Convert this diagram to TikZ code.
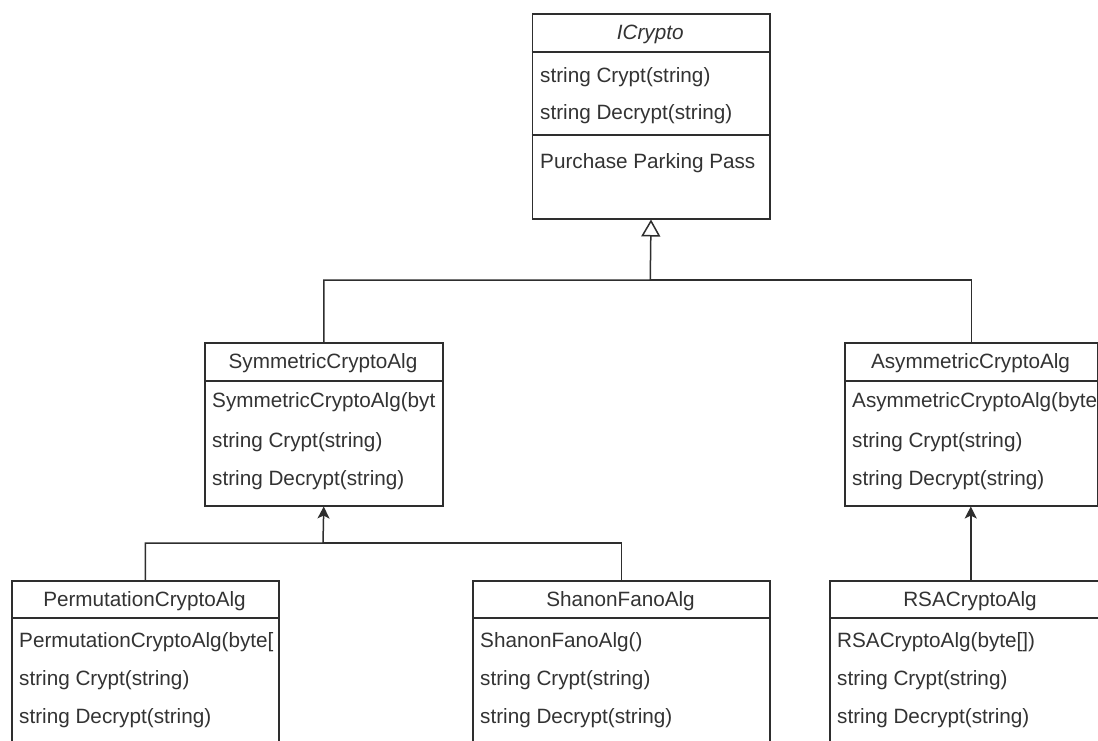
\documentclass[tikz,border=0pt]{standalone}
\usepackage{fontspec}
\setmainfont{Liberation Sans}
\usetikzlibrary{arrows.meta}
\definecolor{linegray}{HTML}{2E2E2E}
\definecolor{textgray}{HTML}{333333}

\begin{document}
\begin{tikzpicture}[
    x=1pt, y=-1pt,
    cls/.style={rectangle, draw=linegray, fill=white, line width=1.5pt,
                anchor=north west, inner sep=0pt},
    title/.style={font=\fontsize{20.7}{24}\selectfont, text=textgray,
                  text height=15pt, text depth=4.5pt, inner sep=0pt},
    member/.style={title, anchor=west},
    sep/.style={draw=linegray, line width=1.5pt},
    inherit/.style={-{Triangle[open, length=17pt, width=19pt]}, draw=linegray, line width=1.5pt},
    arr/.style={-{Stealth[length=12pt, width=12pt, inset=3pt]}, draw=linegray, line width=1.5pt}
  ]
  \fill[white] (0,0) rectangle (1098,740);
  \useasboundingbox (0,0) rectangle (1098,740);
  \clip (0,0) rectangle (1098,740);

  \node[cls, minimum width=237.5pt, minimum height=205pt] (icrypto) at (531.5,13) {};
  \node[cls, minimum width=238pt, minimum height=163pt] (sym)    at (204,342) {};
  \node[cls, minimum width=253pt, minimum height=163pt] (asym)   at (844,342) {};
  \node[cls, minimum width=267pt, minimum height=200pt] (perm)   at (11,580) {};
  \node[cls, minimum width=297pt, minimum height=200pt] (shanon) at (472,580) {};
  \node[cls, minimum width=282pt, minimum height=200pt] (rsa)    at (829,580) {};

  \draw[sep] (531.5,52) -- (769,52);
  \draw[sep] (531.5,135) -- (769,135);
  \draw[sep] (204,381) -- (442,381);
  \draw[sep] (844,381) -- (1097,381);
  \draw[sep] (11,618) -- (278,618);
  \draw[sep] (472,618) -- (769,618);
  \draw[sep] (829,618) -- (1111,618);

  \node[title] (icrypto-t) at (650.25,34) {\itshape ICrypto};
  \node[title] (sym-t)     at (323,363)   {SymmetricCryptoAlg};
  \node[title] (asym-t)    at (970.5,363) {AsymmetricCryptoAlg};
  \node[title] (perm-t)    at (144.5,601) {PermutationCryptoAlg};
  \node[title] (shanon-t)  at (620.5,601) {ShanonFanoAlg};
  \node[title] (rsa-t)     at (970,601)   {RSACryptoAlg};

  \node[member] (icrypto-m1) at (540,77)  {string Crypt(string)};
  \node[member] (icrypto-m2) at (540,114) {string Decrypt(string)};
  \node[member] (icrypto-m3) at (540,163) {Purchase Parking Pass};

  \node[member] (sym-m1) at (212,402) {SymmetricCryptoAlg(byt};
  \node[member] (sym-m2) at (212,442) {string Crypt(string)};
  \node[member] (sym-m3) at (212,480) {string Decrypt(string)};

  \begin{scope}
    \clip (asym.south west) rectangle (asym.north east);
    \node[member] (asym-m1) at (852,402) {AsymmetricCryptoAlg(byte};
  \end{scope}
  \node[member] (asym-m2) at (852,442) {string Crypt(string)};
  \node[member] (asym-m3) at (852,480) {string Decrypt(string)};

  \node[member] (perm-m1) at (19,642) {PermutationCryptoAlg(byte[};
  \node[member] (perm-m2) at (19,680) {string Crypt(string)};
  \node[member] (perm-m3) at (19,718) {string Decrypt(string)};

  \node[member] (shanon-m1) at (480,642) {ShanonFanoAlg()};
  \node[member] (shanon-m2) at (480,680) {string Crypt(string)};
  \node[member] (shanon-m3) at (480,718) {string Decrypt(string)};

  \node[member] (rsa-m1) at (837,642) {RSACryptoAlg(byte[])};
  \node[member] (rsa-m2) at (837,680) {string Crypt(string)};
  \node[member] (rsa-m3) at (837,718) {string Decrypt(string)};

  \coordinate (top-join) at (650.25,280);
  \coordinate (sym-join) at (323,543);

  \draw[inherit] (sym.north) |- (top-join) -- (icrypto.south);
  \draw[sep] (asym.north) |- (top-join);
  \draw[arr] (perm.north) |- (sym-join) -- (sym.south);
  \draw[sep] (shanon.north) |- (sym-join);
  \draw[arr] (rsa.north) -- (rsa.north |- asym.south);
\end{tikzpicture}
\end{document}
